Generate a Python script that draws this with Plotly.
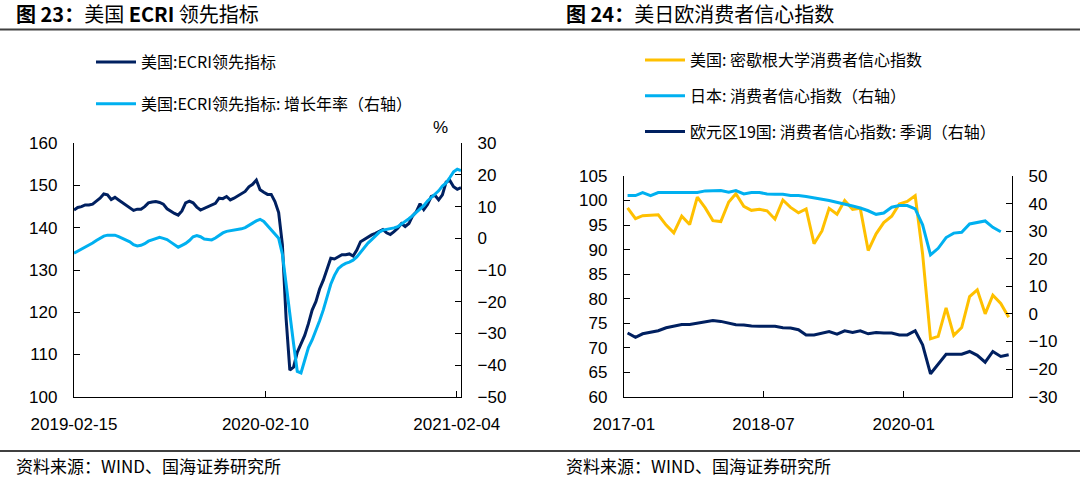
import pandas as pd
import plotly.graph_objects as go

# ---------------- Data: left chart (weekly ECRI) ----------------
ecri_start = "2019-02-15"
ecri_level = [
    144.2, 144.8, 145.0, 145.4, 145.4, 145.6, 146.3, 147.0, 148.0, 147.8,
    146.7, 147.2, 146.6, 146.0, 145.5, 144.8, 144.1, 144.4, 144.4, 145.0,
    145.9, 146.1, 146.2, 146.0, 145.6, 144.5, 143.9, 143.4, 143.0, 144.0,
    145.9, 146.3, 145.9, 144.9, 144.2, 144.6, 145.1, 145.4, 145.8, 147.0,
    146.9, 147.4, 146.6, 147.0, 147.5, 148.1, 148.6, 149.7, 150.3, 151.3,
    149.0, 148.4, 147.9, 147.9, 146.2, 143.6, 136.0, 118.5, 106.3, 107.0,
    110.5, 112.5, 114.5, 117.3, 120.5, 122.5, 125.5, 127.6, 130.5, 132.8,
    132.6, 133.2, 133.6, 133.6, 133.8, 133.3, 134.7, 136.7, 137.3, 137.9,
    138.3, 138.7, 139.1, 139.6, 138.8, 138.4, 139.1, 139.9, 141.0, 140.3,
    141.0, 142.8, 143.8, 145.7, 144.3, 145.5, 147.4, 147.7, 146.6, 147.8,
    150.8, 151.2, 149.7, 149.1, 149.5,
]
ecri_growth = [
    -4.7, -4.1, -3.5, -2.7, -2.1, -1.5, -0.7, 0.0, 0.7, 1.0,
    1.0, 1.0, 0.5, 0.0, -0.6, -1.1, -2.0, -2.4, -2.2, -1.7,
    -0.9, -0.5, -0.2, 0.3, 0.0, -0.4, -1.2, -2.1, -2.8, -2.2,
    -1.6, -0.7, 0.5, 0.9, 0.5, -0.2, -0.4, -0.5, 0.1, 1.0,
    1.7, 2.2, 2.4, 2.6, 2.7, 3.0, 3.4, 4.0, 4.8, 5.5,
    6.0, 5.3, 4.0, 2.9, 1.5, 0.0, -5.0, -14.5, -25.0, -33.2,
    -42.0, -42.5, -38.5, -34.5, -32.1, -29.3, -26.0, -22.6, -18.4, -14.5,
    -11.7, -9.6, -8.6, -7.9, -7.5, -6.9, -5.9, -4.4, -2.9, -1.5,
    -0.4, 0.7, 1.9, 2.6, 2.8, 3.0, 3.3, 3.7, 4.5, 5.4,
    6.2, 7.2, 8.3, 9.3, 10.3, 11.8, 12.9, 13.9, 15.0, 16.5,
    17.5, 19.2, 21.0, 21.8, 21.4,
]
ecri_dates = pd.date_range(ecri_start, periods=len(ecri_level), freq="7D")
left_ticks = ["2019-02-15", "2020-02-10", "2021-02-04"]

# ---------------- Data: right chart (monthly sentiment) ----------------
month_labels = pd.date_range("2017-01-01", periods=50, freq="MS")
us_michigan = [
    98.5, 96.3, 96.9, 97.0, 97.1, 95.0, 93.4, 96.8, 95.1, 100.7, 98.5, 95.9,
    95.7, 99.7, 101.4, 98.8, 98.0, 98.2, 97.9, 96.2, 100.1, 98.6, 97.5, 98.3,
    91.2, 93.8, 98.4, 97.2, 100.0, 98.2, 98.4, 89.8, 93.2, 95.5, 96.8, 99.3,
    99.8, 101.0, 89.1, 71.8, 72.3, 78.1, 72.5, 74.1, 80.4, 81.8, 76.9, 80.7,
    79.0, 76.2,
]
japan_cci = [
    42.9, 42.9, 44.0, 42.9, 44.0, 44.0, 44.0, 44.0, 44.0, 44.0, 44.6, 44.7,
    44.7, 44.1, 44.7, 43.5, 44.0, 44.0, 43.5, 43.4, 43.4, 42.9, 42.9, 42.6,
    42.2, 41.6, 41.1, 40.5, 39.9, 39.1, 38.4, 37.4, 36.1, 36.6, 38.7, 39.3,
    39.3, 38.1, 32.3, 21.4, 23.8, 27.7, 29.3, 29.6, 32.6, 33.1, 33.7, 31.4,
    29.8, None,
]
euro_cci = [
    -6.9, -8.5, -7.2, -6.7, -6.1, -5.0, -4.3, -3.8, -3.8, -3.3, -2.9, -2.4,
    -2.7, -3.3, -3.9, -4.0, -4.4, -4.5, -4.5, -4.5, -5.0, -5.1, -5.7, -7.6,
    -7.6, -6.9, -6.4, -7.3, -6.1, -6.7, -6.1, -7.2, -6.7, -6.9, -6.9, -7.6,
    -7.6, -6.1, -11.2, -21.7, -18.4, -14.6, -14.6, -14.6, -13.6, -15.0, -17.5, -13.6,
    -15.4, -14.8,
]
right_ticks = ["2017-01", "2018-07", "2020-01"]
month_x = month_labels + pd.Timedelta(days=14)

# ---------------- Styling ----------------
NAVY = "#002060"
LIGHT = "#00B0F0"
GOLD = "#FFC000"
W, H = 1080, 479
TICK_FONT = dict(family="Liberation Sans, Arial, sans-serif", size=17, color="#000000")
CJK = "Noto Sans CJK SC"
LEG_FONT = dict(family=CJK, size=16, color="#000000")


def px(x):
    return x / W


def py(y):
    return 1 - y / H


fig = go.Figure()

fig.add_trace(go.Scatter(x=ecri_dates, y=ecri_level, mode="lines",
                         name="美国:ECRI领先指标", line=dict(color=NAVY, width=3),
                         xaxis="x", yaxis="y", legend="legend", legendgroup="a"))
fig.add_trace(go.Scatter(x=ecri_dates, y=ecri_growth, mode="lines",
                         name="美国:ECRI领先指标: 增长年率（右轴）",
                         line=dict(color=LIGHT, width=3),
                         xaxis="x", yaxis="y2", legend="legend", legendgroup="b"))

fig.add_trace(go.Scatter(x=month_x, y=us_michigan, mode="lines",
                         name="美国: 密歇根大学消费者信心指数",
                         line=dict(color=GOLD, width=3),
                         xaxis="x2", yaxis="y3", legend="legend2", legendgroup="c"))
fig.add_trace(go.Scatter(x=month_x, y=japan_cci, mode="lines",
                         name="日本: 消费者信心指数（右轴）",
                         line=dict(color=LIGHT, width=3),
                         xaxis="x2", yaxis="y4", legend="legend2", legendgroup="d"))
fig.add_trace(go.Scatter(x=month_x, y=euro_cci, mode="lines",
                         name="欧元区19国: 消费者信心指数: 季调（右轴）",
                         line=dict(color=NAVY, width=3),
                         xaxis="x2", yaxis="y4", legend="legend2", legendgroup="e"))

axis_common = dict(showgrid=False, zeroline=False, showline=True, linecolor="#000000",
                   linewidth=1.3, ticks="inside", ticklen=6, tickwidth=1.3,
                   tickcolor="#000000", tickfont=TICK_FONT, ticklabelstandoff=12,
                   automargin=False)

L_DOM_X = [px(74), px(461)]
R_DOM_X = [px(624), px(1012)]
L_DOM_Y = [py(396.7), py(143.3)]
R_DOM_Y = [py(396.7), py(176)]

fig.update_layout(
    width=W, height=H,
    margin=dict(l=0, r=0, t=0, b=0, pad=0, autoexpand=False),
    paper_bgcolor="white", plot_bgcolor="white",
    showlegend=True,
    xaxis=dict(domain=L_DOM_X, anchor="y", type="date",
               range=["2019-02-15", "2021-02-12"],
               tickvals=left_ticks, ticktext=left_ticks, **axis_common),
    yaxis=dict(domain=L_DOM_Y, anchor="x", range=[100, 160], dtick=10, **axis_common),
    yaxis2=dict(domain=L_DOM_Y, anchor="x", overlaying="y", side="right",
                range=[-50, 30], dtick=10, **axis_common),
    xaxis2=dict(domain=R_DOM_X, anchor="y3", type="date",
                range=["2017-01-01", "2021-02-28"],
                tickvals=[d + "-01" for d in right_ticks], ticktext=right_ticks,
                **axis_common),
    yaxis3=dict(domain=R_DOM_Y, anchor="x2", range=[60, 105], dtick=5, **axis_common),
    yaxis4=dict(domain=R_DOM_Y, anchor="x2", overlaying="y3", side="right",
                range=[-30, 50], dtick=10, **axis_common),
    legend=dict(x=px(91), y=py(45), xanchor="left", yanchor="top",
                font=LEG_FONT, bgcolor="rgba(0,0,0,0)", tracegroupgap=18,
                itemwidth=40, orientation="v"),
    legend2=dict(x=px(640), y=py(43), xanchor="left", yanchor="top",
                 font=LEG_FONT, bgcolor="rgba(0,0,0,0)", tracegroupgap=12,
                 itemwidth=40, orientation="v"),
)

# separator lines
fig.add_shape(type="line", xref="paper", yref="paper", x0=0, x1=1,
              y0=py(29.5), y1=py(29.5), line=dict(color="#404040", width=2))
fig.add_shape(type="line", xref="paper", yref="paper", x0=0, x1=1,
              y0=py(451), y1=py(451), line=dict(color="#404040", width=2))

TITLE_FONT = dict(family=CJK, size=20, color="#000000")
fig.add_annotation(text="<b>图 23：</b>美国 <b>ECRI</b> 领先指标", xref="paper", yref="paper",
                   x=px(14), y=py(14), xanchor="left", yanchor="middle",
                   showarrow=False, font=TITLE_FONT)
fig.add_annotation(text="<b>图 24：</b>美日欧消费者信心指数", xref="paper", yref="paper",
                   x=px(564), y=py(14), xanchor="left", yanchor="middle",
                   showarrow=False, font=TITLE_FONT)

SRC_FONT = dict(family=CJK, size=17, color="#000000")
for x0 in (14, 564):
    fig.add_annotation(text="资料来源：WIND、国海证券研究所", xref="paper", yref="paper",
                       x=px(x0), y=py(465), xanchor="left", yanchor="middle",
                       showarrow=False, font=SRC_FONT)

fig.add_annotation(text="%", xref="paper", yref="paper", x=px(440), y=py(127),
                   xanchor="center", yanchor="middle", showarrow=False,
                   font=dict(family="Liberation Sans, Arial, sans-serif", size=17,
                             color="#000000"))

fig.write_html("out.html", config={"displayModeBar": False},
               post_script="document.body.style.margin='0';document.body.style.overflow='hidden';")
